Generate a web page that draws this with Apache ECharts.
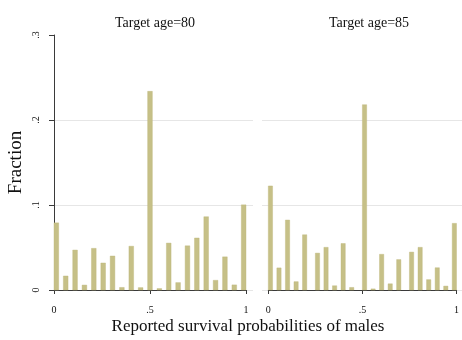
<!DOCTYPE html>
<html>
<head>
<meta charset="utf-8">
<script src="https://cdn.jsdelivr.net/npm/echarts@6/dist/echarts.min.js"></script>
<style>html,body{margin:0;padding:0;background:#fff}#c{width:462px;height:340px}</style>
</head>
<body>
<div id="c"></div>
<script>
// Reported survival probability values (histogram responses)
const probValues = [0, 0.05, 0.1, 0.15, 0.2, 0.25, 0.3, 0.35, 0.4, 0.45, 0.5, 0.55, 0.6, 0.65, 0.7, 0.75, 0.8, 0.85, 0.9, 0.95, 1];
// Fractions, target age 80
const fraction80 = [0.079, 0.0165, 0.047, 0.0058, 0.049, 0.0318, 0.040, 0.003, 0.0515, 0.0028, 0.2337, 0.0017, 0.0552, 0.0087, 0.052, 0.0612, 0.0862, 0.0114, 0.039, 0.006, 0.1002];
// Fractions, target age 85
const fraction85 = [0.1224, 0.026, 0.0823, 0.0098, 0.065, 0.0434, 0.0502, 0.005, 0.0547, 0.003, 0.218, 0.0013, 0.042, 0.0073, 0.0358, 0.0446, 0.0502, 0.0122, 0.0262, 0.0046, 0.0784];
const panelTitles = ['Target age=80', 'Target age=85'];
const binCounts = [41, 44];
const yTicks = [0, 0.1, 0.2, 0.3];
const xTicks = [0, 0.5, 1];
const tickText = v => (v === 0 ? '0' : v === 1 ? '1' : String(v).replace(/^0/, ''));

function toBins(values, bins) {
  return probValues.map((p, i) => {
    const k = Math.min(Math.floor(p * bins + 1e-9), bins - 1);
    return [k / bins, (k + 1) / bins, values[i]];
  });
}

const FONT = 'Liberation Serif';
const BAR = '#c6c087';
const chart = echarts.init(document.getElementById('c'));

function renderBar(params, api) {
  const a = api.coord([api.value(0), api.value(2)]);
  const b = api.coord([api.value(1), 0]);
  return {
    type: 'rect',
    shape: { x: a[0], y: a[1], width: b[0] - a[0], height: b[1] - a[1] },
    style: { fill: BAR, stroke: '#bdb67a', lineWidth: 0.4 }
  };
}

const xAxisBase = (gi) => ({
  gridIndex: gi, type: 'value', min: 0, max: 1, interval: 0.5, offset: 8,
  axisLine: { show: true, lineStyle: { color: '#3a3a3a', width: 1 } },
  axisTick: { show: true, length: 4, lineStyle: { color: '#3a3a3a' } },
  axisLabel: { formatter: tickText, fontFamily: FONT, fontSize: 10, color: '#111', margin: 7 },
  splitLine: { show: false }
});

const gridLineAxis = (gi) => ({
  gridIndex: gi, type: 'value', min: 0, max: 0.2, interval: 0.1,
  axisLine: { show: false }, axisTick: { show: false }, axisLabel: { show: false },
  splitLine: { show: true, lineStyle: { color: '#e6e6e6', width: 1 } }
});

const option = {
  animation: false,
  backgroundColor: '#fff',
  title: [
    { text: panelTitles[0], left: 150, top: 11, textAlign: 'center',
      textStyle: { fontFamily: FONT, fontSize: 14, fontWeight: 'normal', color: '#111' } },
    { text: panelTitles[1], left: 364, top: 11, textAlign: 'center',
      textStyle: { fontFamily: FONT, fontSize: 14, fontWeight: 'normal', color: '#111' } }
  ],
  grid: [
    { left: 54, right: 216, top: 35, bottom: 50 },
    { left: 268.3, right: 1.7, top: 35, bottom: 50 },
    { left: 53, right: 209, top: 120, bottom: 50 },
    { left: 262, right: 0, top: 120, bottom: 50 }
  ],
  xAxis: [
    xAxisBase(0),
    xAxisBase(1),
    { gridIndex: 2, type: 'value', min: 0, max: 1, show: false },
    { gridIndex: 3, type: 'value', min: 0, max: 1, show: false }
  ],
  yAxis: [
    { gridIndex: 0, type: 'value', min: 0, max: 0.3, interval: 0.1, offset: 1,
      axisLine: { show: true, lineStyle: { color: '#3a3a3a', width: 1 } },
      axisTick: { show: true, length: 5, lineStyle: { color: '#3a3a3a' } },
      axisLabel: { rotate: 90, formatter: tickText, fontFamily: FONT, fontSize: 10, color: '#111', margin: 12 },
      splitLine: { show: false },
      name: 'Fraction', nameLocation: 'middle', nameRotate: 90, nameGap: 27,
      nameTextStyle: { fontFamily: FONT, fontSize: 19, color: '#111' } },
    { gridIndex: 1, type: 'value', min: 0, max: 0.3, interval: 0.1, show: false },
    gridLineAxis(2),
    gridLineAxis(3)
  ],
  graphic: [
    { type: 'text', x: 248, y: 318,
      style: { text: 'Reported survival probabilities of males', font: '17px "Liberation Serif"', fill: '#111', textAlign: 'center' } }
  ],
  series: [
    { type: 'custom', xAxisIndex: 0, yAxisIndex: 0, renderItem: renderBar,
      encode: { x: [0, 1], y: 2 }, data: toBins(fraction80, binCounts[0]), z: 3 },
    { type: 'custom', xAxisIndex: 1, yAxisIndex: 1, renderItem: renderBar,
      encode: { x: [0, 1], y: 2 }, data: toBins(fraction85, binCounts[1]), z: 3 }
  ]
};
chart.setOption(option);
</script>
</body>
</html>
